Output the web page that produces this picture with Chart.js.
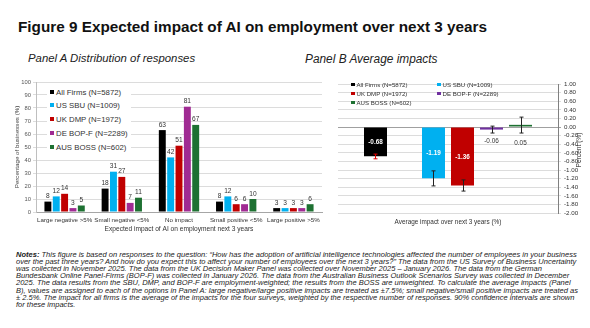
<!DOCTYPE html>
<html><head><meta charset="utf-8">
<script src="https://cdn.jsdelivr.net/npm/chart.js@4.4.1/dist/chart.umd.min.js"></script>
<style>
html,body{margin:0;padding:0;background:#fff;width:590px;height:328px;overflow:hidden;}
body{position:relative;font-family:"Liberation Sans",Arial,sans-serif;color:#222;}
.t{position:absolute;white-space:nowrap;}
canvas{position:absolute;}
.lg{position:absolute;white-space:nowrap;color:#333;}
.lg i{display:inline-block;vertical-align:middle;margin-right:2px;position:relative;top:-1px;}
#legAbox{position:absolute;left:47px;top:86px;width:84px;height:68px;background:#fff;}
</style>
</head><body>
<div id="title" class="t" style="font-weight:bold;color:#111;">Figure 9 Expected impact of AI on employment over next 3 years</div>
<div id="subA" class="t" style="font-style:italic;color:#222;">Panel A Distribution of responses</div>
<div id="subB" class="t" style="font-style:italic;color:#222;">Panel B Average impacts</div>
<canvas id="cA" width="325" height="166" style="left:0;top:70px;"></canvas>
<canvas id="cB" width="265" height="166" style="left:325px;top:70px;"></canvas>
<div id="legAbox"></div>
<div id="legA"></div>
<div id="legB"></div>
<div id="ytitleB" class="t" style="font-size:6.6px;color:#333;transform:rotate(-90deg);transform-origin:center;">Percent (%)</div>
<div id="notes"></div>
<script>
// ---------- DATA ----------
const categoriesA = ["Large negative >5%", "Small negative <5%", "No impact", "Small positive <5%", "Large positive >5%"];
const seriesNames = ["All Firms (N=5872)", "US SBU (N=1009)", "UK DMP (N=1972)", "DE BOP-F (N=2289)", "AUS BOSS (N=602)"];
const allFirms = [8, 18, 63, 8, 3];
const usSBU    = [12, 31, 42, 12, 3];
const ukDMP    = [14, 27, 51, 6, 3];
const deBOPF   = [3, 7, 81, 6, 3];
const ausBOSS  = [5, 11, 67, 10, 6];
const yTicksA  = [0, 10, 20, 30, 40, 50, 60, 70, 80, 90, 100];

const categoryB = ["Average impact over next 3 years (%)"];
const avgImpact = [-0.68, -1.19, -1.36, -0.06, 0.05];
const ciLow     = [-0.74, -1.37, -1.49, -0.14, -0.14];
const ciHigh    = [-0.63, -1.02, -1.23, 0.02, 0.23];
const yTicksB   = [1.0, 0.8, 0.6, 0.4, 0.2, 0, -0.2, -0.4, -0.6, -0.8, -1.0, -1.2, -1.4, -1.6, -1.8, -2.0];

const notesLines = [
 ["Notes:", " This figure is based on responses to the question: \u201cHow has the adoption of artificial intelligence technologies affected the number of employees in your business"],
 ["", "over the past three years? And how do you expect this to affect your number of employees over the next 3 years?\u201d The data from the US Survey of Business Uncertainty"],
 ["", "was collected in November 2025. The data from the UK Decision Maker Panel was collected over November 2025 \u2013 January 2026. The data from the German"],
 ["", "Bundesbank Online Panel-Firms (BOP-F) was collected in January 2026. The data from the Australian Business Outlook Scenarios Survey was collected in December"],
 ["", "2025. The data results from the SBU, DMP, and BOP-F are employment-weighted; the results from the BOSS are unweighted. To calculate the average impacts (Panel"],
 ["", "B), values are assigned to each of the options in Panel A: large negative/large positive impacts are treated as \u00b17.5%; small negative/small positive impacts are treated as"],
 ["", "\u00b1 2.5%. The impact for all firms is the average of the impacts for the four surveys, weighted by the respective number of responses. 90% confidence intervals are shown"],
 ["", "for these impacts."]
];

// ---------- STYLE ----------
const colorsA = ["#000000", "#00B0F0", "#C00000", "#A02B93", "#1E7132"];
const colorsB = ["#000000", "#00B0F0", "#C00000", "#7030A0", "#1E7132"];
const errColors = ["#E00000", "#222222", "#222222", "#222222", "#222222"];
const FONT = '"Liberation Sans", Arial, sans-serif';

// ---------- text helpers ----------
const mctx = document.createElement('canvas').getContext('2d');
function fit(el, w, cx, cy) {
  const cs = getComputedStyle(el);
  mctx.font = `${cs.fontStyle} ${cs.fontWeight} 100px ${FONT}`;
  const mw = mctx.measureText(el.textContent).width;
  const fs = 100 * w / mw;
  el.style.fontSize = fs + 'px';
  el.style.lineHeight = (fs * 1.2) + 'px';
  el.style.left = cx + 'px';
  el.style.top = (cy - fs * 0.59) + 'px';
}
fit(document.getElementById('title'), 470, 18, 27.5);
fit(document.getElementById('subA'), 168, 28, 59);
fit(document.getElementById('subB'), 133, 305, 59);

const yt = document.getElementById('ytitleB');
yt.style.left = (579 - 18) + 'px';
yt.style.top = (150 - 4) + 'px';
yt.style.width = '36px'; yt.style.textAlign = 'center'; yt.style.lineHeight = '8px';

// legends
function legend(container, items, colors, positions, fs, sq) {
  const c = document.getElementById(container);
  items.forEach((name, i) => {
    const d = document.createElement('div');
    d.className = 'lg';
    d.style.fontSize = fs + 'px';
    d.style.lineHeight = (fs * 1.2) + 'px';
    d.style.left = positions[i][0] + 'px';
    d.style.top = (positions[i][1] - fs * 0.6) + 'px';
    const m = document.createElement('i');
    m.style.width = sq + 'px'; m.style.height = sq + 'px'; m.style.background = colors[i];
    d.appendChild(m);
    d.appendChild(document.createTextNode(name));
    c.appendChild(d);
  });
}
legend('legA', seriesNames, colorsA, [[50, 92.7], [50, 106], [50, 120], [50, 133.3], [50, 147.3]], 7.8, 4);
legend('legB', seriesNames, colorsB, [[351, 85], [437, 85], [351, 94], [437, 94], [351, 103]], 6.1, 3.5);

// notes
(function () {
  const n = document.getElementById('notes');
  mctx.font = `italic 100px ${FONT}`;
  const w1 = mctx.measureText(notesLines[0][0] + notesLines[0][1]).width;
  const fs = 100 * 560 / w1;
  notesLines.forEach((ln, i) => {
    const d = document.createElement('div');
    d.className = 't';
    d.style.fontStyle = 'italic';
    d.style.fontSize = fs + 'px';
    d.style.lineHeight = (fs * 1.2) + 'px';
    d.style.color = '#222';
    d.style.left = '16px';
    const cy = 254.7 + i * 7.05;
    d.style.top = (cy - fs * 0.59) + 'px';
    if (ln[0]) { const b = document.createElement('b'); b.textContent = ln[0]; d.appendChild(b); }
    d.appendChild(document.createTextNode(ln[1]));
    n.appendChild(d);
  });
})();

// ---------- PANEL A ----------
const labelsA = {
  id: 'labelsA',
  afterDatasetsDraw(chart) {
    const ctx = chart.ctx;
    ctx.save();
    ctx.font = `6.6px ${FONT}`;
    ctx.fillStyle = '#333';
    ctx.textAlign = 'center';
    ctx.textBaseline = 'bottom';
    chart.data.datasets.forEach((ds, di) => {
      chart.getDatasetMeta(di).data.forEach((el, i) => {
        ctx.fillText(String(ds.data[i]), el.x, el.y - 2);
      });
    });
    ctx.restore();
  }
};
const seriesA = [allFirms, usSBU, ukDMP, deBOPF, ausBOSS];
new Chart(document.getElementById('cA'), {
  type: 'bar',
  data: {
    labels: categoriesA,
    datasets: seriesA.map((d, i) => ({
      label: seriesNames[i], data: d, backgroundColor: colorsA[i],
      categoryPercentage: 0.73, barPercentage: 0.83, borderWidth: 0
    }))
  },
  options: {
    responsive: false, animation: false, devicePixelRatio: 1,
    layout: { padding: { top: 12, right: 2, left: 0, bottom: 0 } },
    plugins: { legend: { display: false }, tooltip: { enabled: false } },
    scales: {
      x: {
        grid: { display: false, drawTicks: false, tickLength: 0 },
        border: { display: true, color: '#a6a6a6' },
        ticks: { font: { family: FONT, size: 6.2 }, color: '#333', padding: 5, maxRotation: 0, autoSkip: false },
        title: { display: true, text: 'Expected impact of AI on employment next 3 years', font: { family: FONT, size: 6.6 }, color: '#333', padding: { top: 0, bottom: 3 } },
        afterFit(s) { s.height = 24; }
      },
      y: {
        min: 0, max: 100,
        afterBuildTicks(s) { s.ticks = yTicksA.map(v => ({ value: v })); },
        grid: { color: '#dcdcdc', tickLength: 3 },
        border: { display: true, color: '#bfbfbf' },
        ticks: { font: { family: FONT, size: 5.8 }, color: '#555', padding: 2, autoSkip: false },
        title: { display: true, text: 'Percentage of businesses (%)', font: { family: FONT, size: 6.2 }, color: '#444', padding: { top: 13.8, bottom: 0 } },
        afterFit(s) { s.width = 36; }
      }
    }
  },
  plugins: [labelsA]
});

// ---------- PANEL B ----------
const order = [0, null, 1, 2, 3, 4];
const errPlugin = {
  id: 'errB',
  afterDatasetsDraw(chart) {
    const ctx = chart.ctx, y = chart.scales.y;
    ctx.save();
    chart.data.datasets.forEach((ds, di) => {
      const k = ds.idx;
      if (k === null || k === undefined) return;
      const el = chart.getDatasetMeta(di).data[0];
      const x = Math.round(el.x) + 0.5;
      const lo = y.getPixelForValue(ciLow[k]), hi = y.getPixelForValue(ciHigh[k]);
      ctx.strokeStyle = errColors[k]; ctx.lineWidth = 1;
      ctx.beginPath();
      ctx.moveTo(x, hi); ctx.lineTo(x, lo);
      ctx.moveTo(x - 2, hi); ctx.lineTo(x + 2, hi);
      ctx.moveTo(x - 2, lo); ctx.lineTo(x + 2, lo);
      ctx.stroke();
      const v = avgImpact[k];
      const z = y.getPixelForValue(0);
      ctx.textAlign = 'center'; ctx.textBaseline = 'middle';
      if (Math.abs(v) > 0.3) {
        ctx.font = `bold 6.4px ${FONT}`; ctx.fillStyle = '#fff';
        ctx.fillText(v.toFixed(2), el.x, (z + el.y) / 2 + 1);
      } else {
        ctx.font = `6.4px ${FONT}`; ctx.fillStyle = '#333';
        ctx.fillText(v.toFixed(2), el.x, z + 14 + (v > 0 ? 2 : 0));
      }
    });
    ctx.restore();
  }
};
new Chart(document.getElementById('cB'), {
  type: 'bar',
  data: {
    labels: categoryB,
    datasets: order.map(k => ({
      label: k === null ? '' : seriesNames[k],
      idx: k,
      data: [k === null ? null : avgImpact[k]],
      backgroundColor: k === null ? 'rgba(0,0,0,0)' : colorsB[k],
      categoryPercentage: 0.791, barPercentage: 0.793, borderWidth: 0
    }))
  },
  options: {
    responsive: false, animation: false, devicePixelRatio: 1,
    layout: { padding: { top: 14, left: 13, right: 0, bottom: 0 } },
    plugins: { legend: { display: false }, tooltip: { enabled: false } },
    scales: {
      x: {
        grid: { display: false, drawTicks: false, tickLength: 0 },
        border: { display: false },
        ticks: { font: { family: FONT, size: 6.4 }, color: '#333', padding: 5 },
        afterFit(s) { s.height = 23; }
      },
      y: {
        position: 'right', min: -2, max: 1,
        afterBuildTicks(s) { s.ticks = yTicksB.map(v => ({ value: v })); },
        grid: { color: c => Math.abs(c.tick && c.tick.value) < 1e-9 ? '#a0a0a0' : '#dcdcdc', tickLength: 3 },
        border: { display: true, color: '#808080' },
        ticks: { font: { family: FONT, size: 6.2 }, color: '#333', padding: 3, autoSkip: false, callback: v => Number(v).toFixed(2) },
        afterFit(s) { s.width = 32; }
      }
    }
  },
  plugins: [errPlugin]
});
</script>
</body></html>
